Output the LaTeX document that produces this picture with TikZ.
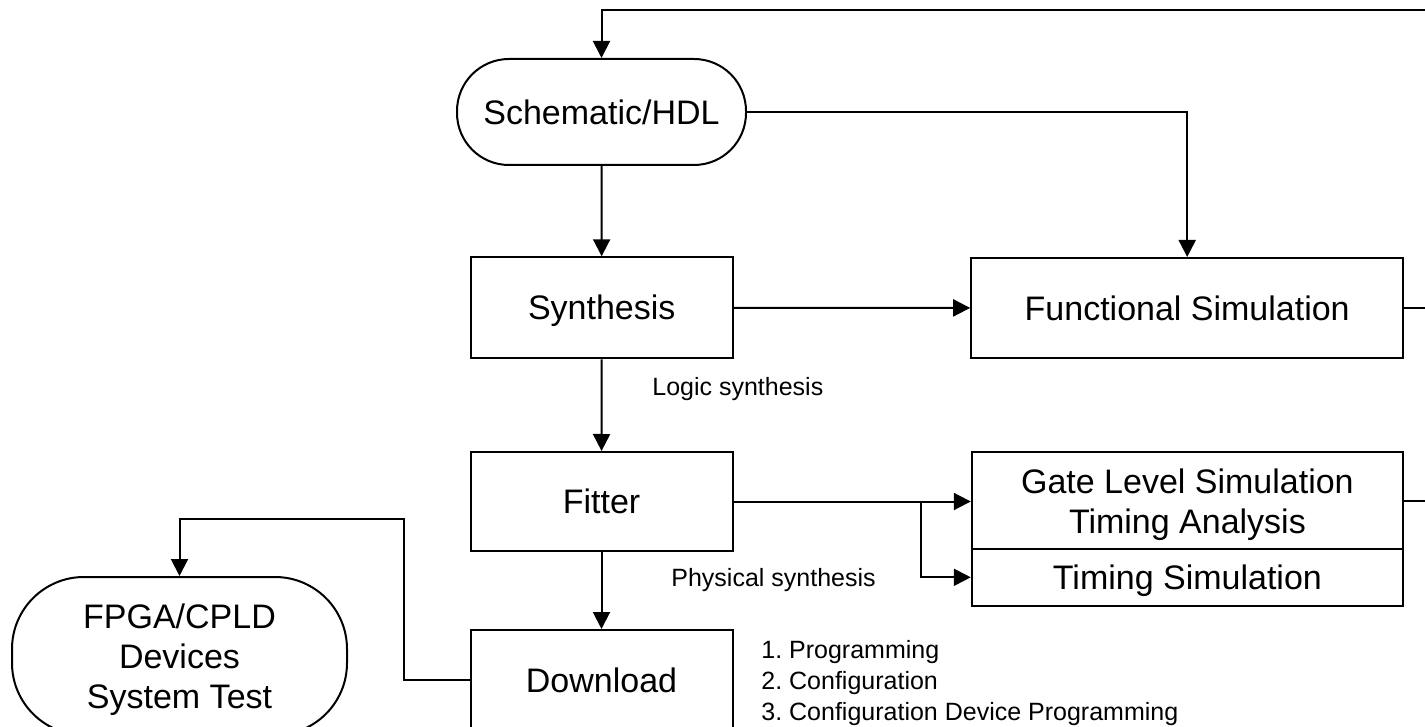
\documentclass[tikz,border=0pt]{standalone}
\usepackage{fontspec}
\setmainfont{Liberation Sans}
\usetikzlibrary{arrows.meta}
\begin{document}
\begin{tikzpicture}[x=0.5pt,y=-0.5pt,
  wire/.style={line width=1pt},
  arr/.style={wire,-{Triangle[length=8.5pt,width=8.5pt]}},
  box/.style={draw,line width=1pt,inner sep=0pt,align=center,
    font=\fontsize{17}{20}\selectfont},
  oneline/.style={text height=12.2pt,text depth=0pt},
  term/.style={box,rounded corners=#1},
  lbl/.style={inner sep=0pt,anchor=base west,
    font=\fontsize{12.5}{15.5}\selectfont}]
\useasboundingbox (0,0) rectangle (1425,727);
\clip (0,0) rectangle (1425,727);

% process blocks
\node[term=26pt,oneline,minimum width=144.5pt,minimum height=53pt] (sch) at (601.5,112) {Schematic/HDL};
\node[box,oneline,minimum width=131pt,minimum height=50.5pt] (syn) at (601.7,307.8) {Synthesis};
\node[box,oneline,minimum width=216pt,minimum height=50pt] (fs) at (1187.2,308) {Functional Simulation};
\node[box,oneline,minimum width=131pt,minimum height=49.5pt] (fit) at (601.5,501.5) {Fitter};
\node[box,minimum width=215.6pt,minimum height=48.4pt] (gate) at (1187.4,500.7)
  {\rule{0pt}{16pt}Gate Level Simulation\\Timing Analysis};
\node[box,oneline,minimum width=215.6pt,minimum height=28.3pt] (tim) at (1187.4,577.3) {Timing Simulation};
\node[box,oneline,minimum width=131pt,minimum height=50pt] (dl) at (601.5,680) {Download};
\node[term=36pt,minimum width=167.5pt,minimum height=79pt] (fpga) at (179.5,656)
  {\rule{0pt}{16pt}FPGA/CPLD\\Devices\\System Test};

% annotations
\node[lbl] (logic) at (652,395) {Logic synthesis};
\node[lbl] (phys) at (671,586) {Physical synthesis};
\node[lbl,align=left,anchor=north west] (steps) at (761,640)
  {1.\ Programming\\2.\ Configuration\\3.\ Configuration Device Programming};

% free ends at the right border
\coordinate (loopR) at (1430,10);
\coordinate (fsR) at (1430,308);
\coordinate (gateR) at (1430,501);
\coordinate (br) at (921,501.5);
\coordinate (dlbend) at (404,519);

% connectors
\draw[arr] (loopR) -| (sch.north);
\draw[arr] (sch.east) -| (fs.north);
\draw[arr] (sch) -- (syn);
\draw[arr] (syn) -- (fs);
\draw[arr] (syn) -- (fit);
\draw[wire] (fs.east) -- (fsR);
\draw[arr] (fit.east) -- (fit.east -| gate.west);
\draw[arr] (br) |- (tim.west);
\draw[wire] (gate.east |- gateR) -- (gateR);
\draw[arr] (fit) -- (dl);
\draw[arr] (dl.west) -| (dlbend) -| (fpga.north);
\end{tikzpicture}
\end{document}
